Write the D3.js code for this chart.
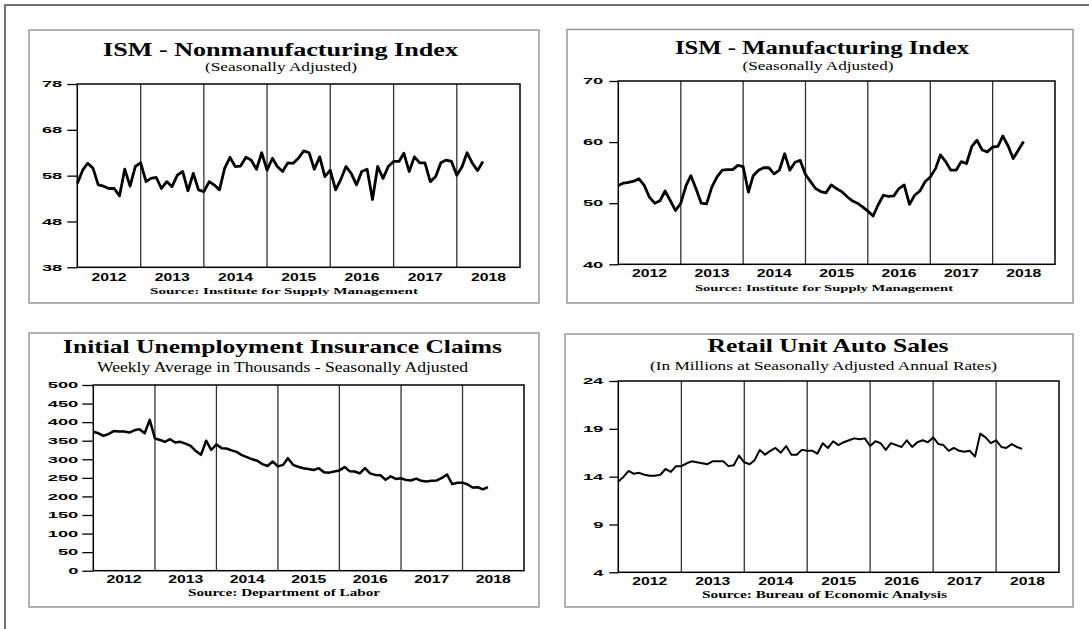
<!DOCTYPE html>
<html>
<head>
<meta charset="utf-8">
<script src="https://cdnjs.cloudflare.com/ajax/libs/d3/7.8.5/d3.min.js"></script>
<style>
body{margin:0;background:#fff;}
svg{display:block;}
</style>
</head>
<body>
<svg id="chart" width="1089" height="629"></svg>
<script>
// year labels along the bottom of every panel
var years = [2012, 2013, 2014, 2015, 2016, 2017, 2018];

// monthly values, first point = Jan 2012
var nonMfgValues = [
	56.3, 59.2, 60.7, 59.6, 56.0, 55.7, 55.2, 55.2, 53.6, 59.4, 55.7, 60.0,
	60.8, 56.7, 57.4, 57.6, 55.2, 56.7, 55.6, 58.1, 58.9, 54.7, 58.5, 54.9,
	54.5, 56.7, 56.0, 54.9, 59.6, 62.0, 60.0, 60.1, 62.0, 61.4, 59.4, 63.0,
	59.2, 61.8, 60.0, 58.9, 60.8, 60.7, 61.8, 63.4, 63.0, 59.4, 62.1, 57.8,
	59.2, 54.9, 57.1, 60.0, 58.5, 56.0, 58.9, 59.4, 52.8, 60.0, 57.4, 60.0,
	61.1, 61.1, 62.9, 58.9, 62.1, 60.8, 60.8, 56.7, 57.8, 60.8, 61.4, 61.1,
	58.1, 60.0, 63.0, 60.7, 59.1, 61.1
];
var mfgValues = [
	52.9, 53.3, 53.4, 53.6, 54.0, 52.9, 51.0, 50.0, 50.4, 52.0, 50.4, 48.8,
	50.0, 52.9, 54.5, 52.3, 50.0, 49.9, 52.6, 54.3, 55.4, 55.5, 55.5, 56.2,
	56.0, 51.8, 54.5, 55.4, 55.8, 55.8, 54.8, 55.4, 58.1, 55.4, 56.7, 57.0,
	54.7, 53.5, 52.4, 51.9, 51.7, 53.0, 52.4, 51.9, 51.1, 50.4, 50.0, 49.4,
	48.7, 47.9, 49.7, 51.3, 51.1, 51.2, 52.4, 53.0, 49.8, 51.3, 52.0, 53.5,
	54.3, 55.7, 57.9, 56.8, 55.4, 55.4, 56.8, 56.5, 59.3, 60.3, 58.7, 58.4,
	59.2, 59.3, 61.0, 59.4, 57.3, 58.7, 60.1
];
var claimsValues = [
	374, 370, 363, 368, 376, 375, 375, 372, 378, 381, 370, 406,
	356, 352, 347, 354, 345, 347, 342, 336, 322, 312, 350, 325,
	340, 330, 329, 324, 320, 311, 306, 300, 296, 287, 282, 294,
	281, 285, 303, 285, 280, 276, 274, 271, 276, 265, 264, 267,
	270, 279, 268, 267, 262, 276, 262, 258, 257, 245, 254, 247,
	249, 244, 243, 248, 242, 240, 242, 243, 250, 259, 233, 237,
	237, 232, 224, 225, 219, 225
];
var autoValues = [
	13.5, 14.0, 14.6, 14.3, 14.4, 14.2, 14.1, 14.1, 14.2, 14.8, 14.5, 15.1,
	15.1, 15.4, 15.6, 15.5, 15.4, 15.3, 15.6, 15.6, 15.6, 15.1, 15.2, 16.2,
	15.5, 15.3, 15.7, 16.8, 16.3, 16.7, 17.0, 16.5, 17.2, 16.3, 16.3, 16.8,
	16.7, 16.7, 16.4, 17.5, 17.0, 17.7, 17.3, 17.6, 17.8, 18.0, 17.9, 18.0,
	17.2, 17.7, 17.5, 16.8, 17.5, 17.3, 17.1, 17.8, 17.1, 17.6, 17.8, 17.6,
	18.1, 17.4, 17.3, 16.7, 17.0, 16.7, 16.6, 16.7, 16.1, 18.5, 18.1, 17.5,
	17.8, 17.1, 17.0, 17.4, 17.1, 16.9
];

// y axis ticks
var nonMfgTicks = [38, 48, 58, 68, 78];
var mfgTicks = [40, 50, 60, 70];
var claimsTicks = [0, 50, 100, 150, 200, 250, 300, 350, 400, 450, 500];
var autoTicks = [4, 9, 14, 19, 24];

var panels = [
	{
		values: nonMfgValues, ticks: nonMfgTicks, lineWidth: 2.8,
		title: "ISM - Nonmanufacturing Index", subtitle: "(Seasonally Adjusted)",
		source: "Source: Institute for Supply Management",
		box: [29, 30, 539, 303], plot: [77.3, 84, 520, 267.3],
		titlePos: {x: 280.5, y: 56, w: 355, size: 18},
		subPos: {x: 281, y: 71, w: 152, size: 12},
		srcPos: {x: 284, y: 294, w: 268, size: 9},
		yearY: 281, tickSize: 10, tickPad: 5
	},
	{
		values: mfgValues, ticks: mfgTicks, lineWidth: 2.8,
		title: "ISM - Manufacturing Index", subtitle: "(Seasonally Adjusted)",
		source: "Source: Institute for Supply Management",
		box: [567, 29.5, 1073, 303], plot: [618.3, 81, 1055, 264.3],
		titlePos: {x: 822, y: 54, w: 294, size: 18},
		subPos: {x: 818, y: 70, w: 151, size: 12},
		srcPos: {x: 824, y: 291, w: 258, size: 9},
		yearY: 277, tickSize: 9, tickPad: 6
	},
	{
		values: claimsValues, ticks: claimsTicks, lineWidth: 2.5,
		title: "Initial Unemployment Insurance Claims", subtitle: "Weekly Average in Thousands - Seasonally Adjusted",
		source: "Source: Department of Labor",
		box: [29, 333, 539, 607], plot: [93.3, 385, 524, 570.7],
		titlePos: {x: 282.5, y: 353, w: 439, size: 19},
		subPos: {x: 282.5, y: 372, w: 371, size: 14},
		srcPos: {x: 284, y: 596, w: 192, size: 9.5},
		yearY: 583, tickSize: 11, tickPad: 4
	},
	{
		values: autoValues, ticks: autoTicks, lineWidth: 2,
		title: "Retail Unit Auto Sales", subtitle: "(In Millions at Seasonally Adjusted Annual Rates)",
		source: "Source: Bureau of Economic Analysis",
		box: [565, 334, 1073, 607], plot: [618.3, 381, 1059, 572.3],
		titlePos: {x: 828, y: 352, w: 241, size: 19},
		subPos: {x: 823.5, y: 370, w: 347, size: 12.5},
		srcPos: {x: 824.5, y: 598, w: 245, size: 9.5},
		yearY: 585, tickSize: 9, tickPad: 6
	}
];

var svg = d3.select("#chart");

// outer page frame (top and left edges only)
svg.append("path")
	.attr("d", "M5,629 L5,5 L1089,5")
	.attr("fill", "none")
	.attr("stroke", "#444")
	.attr("stroke-width", 1.5);

function putText(g, txt, pos, family, weight) {
	g.append("text")
		.attr("x", pos.x)
		.attr("y", pos.y)
		.attr("text-anchor", "middle")
		.attr("font-family", family)
		.attr("font-weight", weight)
		.attr("font-size", pos.size)
		.attr("textLength", pos.w)
		.attr("lengthAdjust", "spacingAndGlyphs")
		.attr("fill", "#000")
		.text(txt);
}

function drawPanel(p) {
	var g = svg.append("g");
	var b = p.box, r = p.plot;

	g.append("rect")
		.attr("x", b[0]).attr("y", b[1])
		.attr("width", b[2] - b[0]).attr("height", b[3] - b[1])
		.attr("fill", "none").attr("stroke", "#9a9a9a").attr("stroke-width", 1.5);

	var x = d3.scaleTime()
		.domain([new Date(2012, 0, 1), new Date(2019, 0, 1)])
		.range([r[0], r[2]]);
	var y = d3.scaleLinear()
		.domain([p.ticks[0], p.ticks[p.ticks.length - 1]])
		.range([r[3], r[1]]);

	// year separators
	g.selectAll(".yr")
		.data(years.slice(1))
		.enter().append("line")
		.attr("x1", function(d) { return x(new Date(d, 0, 1)); })
		.attr("x2", function(d) { return x(new Date(d, 0, 1)); })
		.attr("y1", r[1]).attr("y2", r[3])
		.attr("stroke", "#333").attr("stroke-width", 1.3);

	// y axis
	var ax = g.append("g")
		.attr("transform", "translate(" + r[0] + ",0)")
		.call(d3.axisLeft(y).tickValues(p.ticks).tickSize(p.tickSize).tickSizeOuter(0).tickPadding(p.tickPad));
	ax.select(".domain").remove();
	ax.selectAll("line").attr("stroke", "#000").attr("stroke-width", 1.3);
	ax.selectAll("text")
		.attr("font-family", "Liberation Sans, Arial, sans-serif")
		.attr("font-weight", "bold")
		.attr("font-size", 8.5)
		.attr("fill", "#000")
		.attr("textLength", function(d) { return String(d).length * 10.2; })
		.attr("lengthAdjust", "spacingAndGlyphs");

	// series line
	var line = d3.line()
		.x(function(d, i) { return x(new Date(2012, i, 1)); })
		.y(function(d) { return y(d); });
	g.append("path")
		.datum(p.values)
		.attr("d", line)
		.attr("fill", "none")
		.attr("stroke", "#000")
		.attr("stroke-width", p.lineWidth)
		.attr("stroke-linejoin", "round");

	// plot frame
	g.append("rect")
		.attr("x", r[0]).attr("y", r[1])
		.attr("width", r[2] - r[0]).attr("height", r[3] - r[1])
		.attr("fill", "none").attr("stroke", "#000").attr("stroke-width", 1.5);

	// year labels
	g.selectAll(".ylab")
		.data(years)
		.enter().append("text")
		.attr("x", function(d) { return (x(new Date(d, 0, 1)) + x(new Date(d + 1, 0, 1))) / 2; })
		.attr("y", p.yearY)
		.attr("text-anchor", "middle")
		.attr("font-family", "Liberation Sans, Arial, sans-serif")
		.attr("font-weight", "bold")
		.attr("font-size", 10.5)
		.attr("textLength", 35)
		.attr("lengthAdjust", "spacingAndGlyphs")
		.attr("fill", "#000")
		.text(function(d) { return d; });

	putText(g, p.title, p.titlePos, "Liberation Serif, Times New Roman, serif", "bold");
	putText(g, p.subtitle, p.subPos, "Liberation Serif, Times New Roman, serif", "normal");
	putText(g, p.source, p.srcPos, "Liberation Serif, Times New Roman, serif", "bold");
}

panels.forEach(function(p) {
	drawPanel(p);
});
</script>
</body>
</html>
